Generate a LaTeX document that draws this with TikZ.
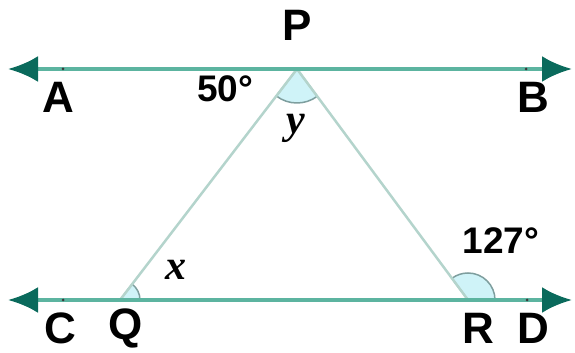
\documentclass[tikz,border=0pt]{standalone}
\usepackage{fontspec}
\setmainfont{Liberation Sans}
\newfontfamily\serifit{Liberation Serif}
\usetikzlibrary{arrows.meta}
\definecolor{parline}{HTML}{5CB4A0}
\definecolor{sideline}{HTML}{B4D4CC}
\definecolor{tipcol}{HTML}{0A6A5C}
\definecolor{tipedge}{HTML}{3CE0E0}
\definecolor{arcfill}{HTML}{CFF3F8}
\definecolor{arcedge}{HTML}{7E9E9E}
\definecolor{ptdot}{HTML}{3A3A3A}
\tikzset{
  parallel/.style={line width=4pt,draw=parline,
    {Latex[length=30pt,width=26pt,fill=tipcol,color=tipcol]}-{Latex[length=30pt,width=26pt,fill=tipcol,color=tipcol]}},
  side/.style={line width=2.5pt,draw=sideline},
  ptlabel/.style={font=\fontsize{44}{44}\selectfont\bfseries,text=black,inner sep=0pt},
  anglabel/.style={font=\fontsize{37}{37}\selectfont\bfseries,text=black,inner sep=0pt},
  varlabel/.style={font=\fontsize{42}{42}\selectfont\serifit\bfseries\itshape,text=black,inner sep=0pt},
  angmark/.style={fill=arcfill,draw=arcedge,line width=1.5pt},
  ptmark/.style={fill=ptdot,draw=none}
}
\begin{document}
\begin{tikzpicture}[x=1pt,y=1pt]
\useasboundingbox (0,0) rectangle (575,353);
% points
\coordinate (P) at (297,284);
\coordinate (Q) at (120,53);
\coordinate (R) at (468,53);
\coordinate (TL) at (8,284);
\coordinate (TR) at (572,284);
\coordinate (BL) at (8,53);
\coordinate (BR) at (572,53);
\coordinate (pA) at (63,284);
\coordinate (pB) at (526,284);
\coordinate (pC) at (63,53);
\coordinate (pD) at (527,53);
% angle marks
\path[angmark] (P) -- ++(232.5:34) arc[start angle=232.5,end angle=306.5,radius=34] -- cycle;
\path[angmark] (R) -- ++(0:27) arc[start angle=0,end angle=126.5,radius=27] -- cycle;
\path[angmark] (Q) -- ++(0:20) arc[start angle=0,end angle=52.5,radius=20] -- cycle;
% triangle sides
\draw[side] (P) -- (Q);
\draw[side] (P) -- (R);
% parallel lines
\draw[parallel] (TL) -- (TR);
\draw[parallel] (BL) -- (BR);
% point dots
\fill[ptmark] (pA) circle[radius=1.5];
\fill[ptmark] (pB) circle[radius=1.5];
\fill[ptmark] (pC) circle[radius=1.5];
\fill[ptmark] (pD) circle[radius=1.5];
% labels
\node[ptlabel] (lP) at (297,328) {P};
\node[ptlabel] (lA) at (58,256) {A};
\node[ptlabel] (lB) at (533,256) {B};
\node[ptlabel] (lC) at (60,25) {C};
\node[ptlabel] (lQ) at (126,25) {Q};
\node[ptlabel] (lR) at (478,25) {R};
\node[ptlabel] (lD) at (533,25) {D};
\node[anglabel] (l50) at (225,264) {50°};
\node[anglabel] (l127) at (501,112) {127°};
\node[varlabel] (ly) at (296,225) {y};
\node[varlabel] (lx) at (176,83) {x};
\end{tikzpicture}
\end{document}
